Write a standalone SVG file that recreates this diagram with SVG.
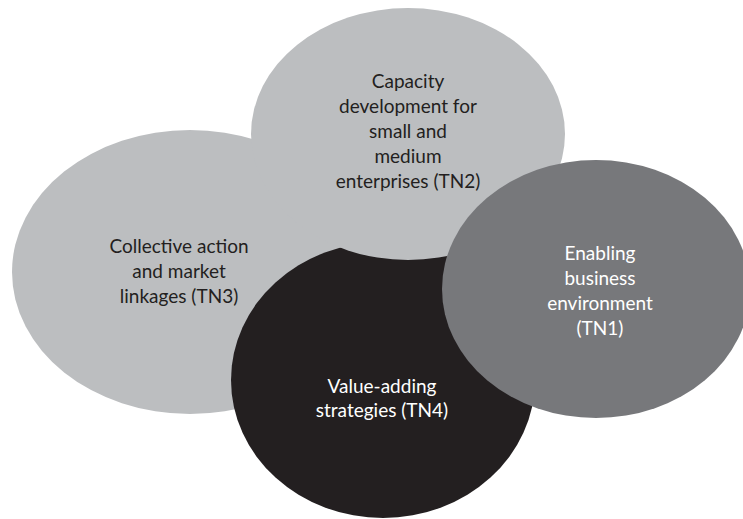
<svg xmlns="http://www.w3.org/2000/svg" width="743" height="519" viewBox="0 0 743 519">
<style>
.light{fill:#bcbec0}
.dark{fill:#77787b}
.black{fill:#231f20}
text{font-family:"Lato","Open Sans","Liberation Sans",sans-serif;font-size:19px;text-anchor:middle}
.t-dark{fill:#231f20}
.t-light{fill:#ffffff}
</style>
<rect width="743" height="519" fill="#ffffff"/>
<g id="connectors"></g>
<g id="tn3">
<ellipse class="light" cx="190" cy="272" rx="178" ry="142"/>
<text class="t-dark" x="179" y="253">Collective action</text>
<text class="t-dark" x="179" y="278">and market</text>
<text class="t-dark" x="179" y="303">linkages (TN3)</text>
</g>
<g id="tn4">
<ellipse class="black" cx="383" cy="380" rx="152" ry="138"/>
<text class="t-light" x="382" y="393">Value-adding</text>
<text class="t-light" x="382" y="417">strategies (TN4)</text>
</g>
<g id="tn2">
<ellipse class="light" cx="408" cy="134" rx="157" ry="126"/>
<text class="t-dark" x="408" y="88">Capacity</text>
<text class="t-dark" x="408" y="113">development for</text>
<text class="t-dark" x="408" y="138">small and</text>
<text class="t-dark" x="408" y="163">medium</text>
<text class="t-dark" x="408" y="188">enterprises (TN2)</text>
</g>
<g id="tn1">
<ellipse class="dark" cx="596" cy="289" rx="154" ry="129"/>
<text class="t-light" x="600" y="260">Enabling</text>
<text class="t-light" x="600" y="285">business</text>
<text class="t-light" x="600" y="310">environment</text>
<text class="t-light" x="600" y="335">(TN1)</text>
</g>
</svg>
